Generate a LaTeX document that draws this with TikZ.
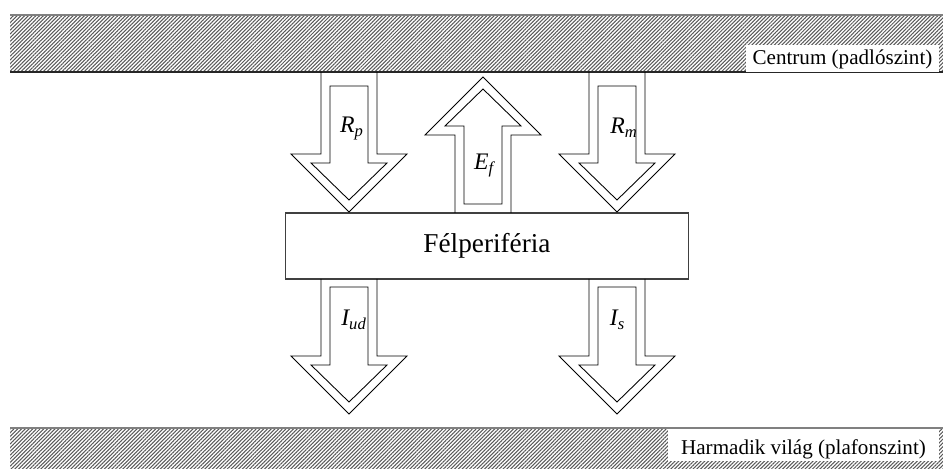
\documentclass[tikz,border=0pt]{standalone}
\usepackage{fontspec}
\setmainfont{Liberation Serif}
\usetikzlibrary{patterns.meta}
\tikzset{
    hatch-band/.style = {pattern={Lines[angle=45, distance=1.5pt, line width=0.6pt]}, pattern color=black!65},
    band-title/.style = {fill=white, inner sep=0pt, anchor=base, font=\fontsize{12}{14}\selectfont},
    flow-line/.style = {draw=black, line width=0.5pt},
    flow-label/.style = {anchor=base, font=\fontsize{13.5}{16}\selectfont\itshape},
    core-box/.style = {draw=black!75, line width=0.6pt, minimum width=8.08cm, minimum height=1.32cm, font=\fontsize{15.5}{18}\selectfont},
}

\begin{document}
\begin{tikzpicture}[x=0.02cm, y=-0.02cm]
\useasboundingbox (0,0) rectangle (943,469);
% floor and ceiling levels
\fill[hatch-band] (10,15) rectangle (943,72);
\draw[black!50, line width=1.1pt] (10,15) -- (943,15);
\draw[black!85, line width=0.8pt] (10,72) -- (943,72);
\fill[hatch-band] (10,428) rectangle (943,469);
\draw[black!50, line width=1.1pt] (10,428) -- (943,428);
\node[band-title, minimum width=3.86cm, text height=0.4cm, text depth=0.14cm] (centrum) at (842.5,65) {Centrum (padlószint)};
\node[band-title, minimum width=5.42cm, text height=0.5cm, text depth=0.14cm] (harmadik) at (803.5,454) {Harmadik világ (plafonszint)};

\node[core-box] (semi) at (487,246) {Félperiféria};

% hollow flow arrows: centre / start / inner start / head base / tip / direction
\foreach \c/\yb/\ib/\yh/\yt/\d in {349/72/86/154/212/1, 617/72/86/154/212/1, 483/213/204/135/77/-1, 349/279/287/356/414/1, 617/279/287/356/414/1}{
    \draw[flow-line] ({\c-28},\yb) -- ({\c-28},\yh) -- ({\c-58},\yh) -- (\c,\yt) -- ({\c+58},\yh) -- ({\c+28},\yh) -- ({\c+28},\yb);
    \draw[flow-line] ({\c-19},\ib) -- ({\c-19},{\yh+9*(\d)}) -- ({\c-38},{\yh+9*(\d)}) -- (\c,{\yt-12*(\d)})
        -- ({\c+38},{\yh+9*(\d)}) -- ({\c+19},{\yh+9*(\d)}) -- ({\c+19},\ib) -- cycle;
}

\node[flow-label] (rp) at (352,133) {R\textsubscript{p}};
\node[flow-label] (rm) at (624,134) {R\textsubscript{m}};
\node[flow-label] (ef) at (484,170) {E\textsubscript{f}};
\node[flow-label] (iud) at (354,326) {I\textsubscript{ud}};
\node[flow-label] (is) at (617.5,326) {I\textsubscript{s}};
\end{tikzpicture}
\end{document}
